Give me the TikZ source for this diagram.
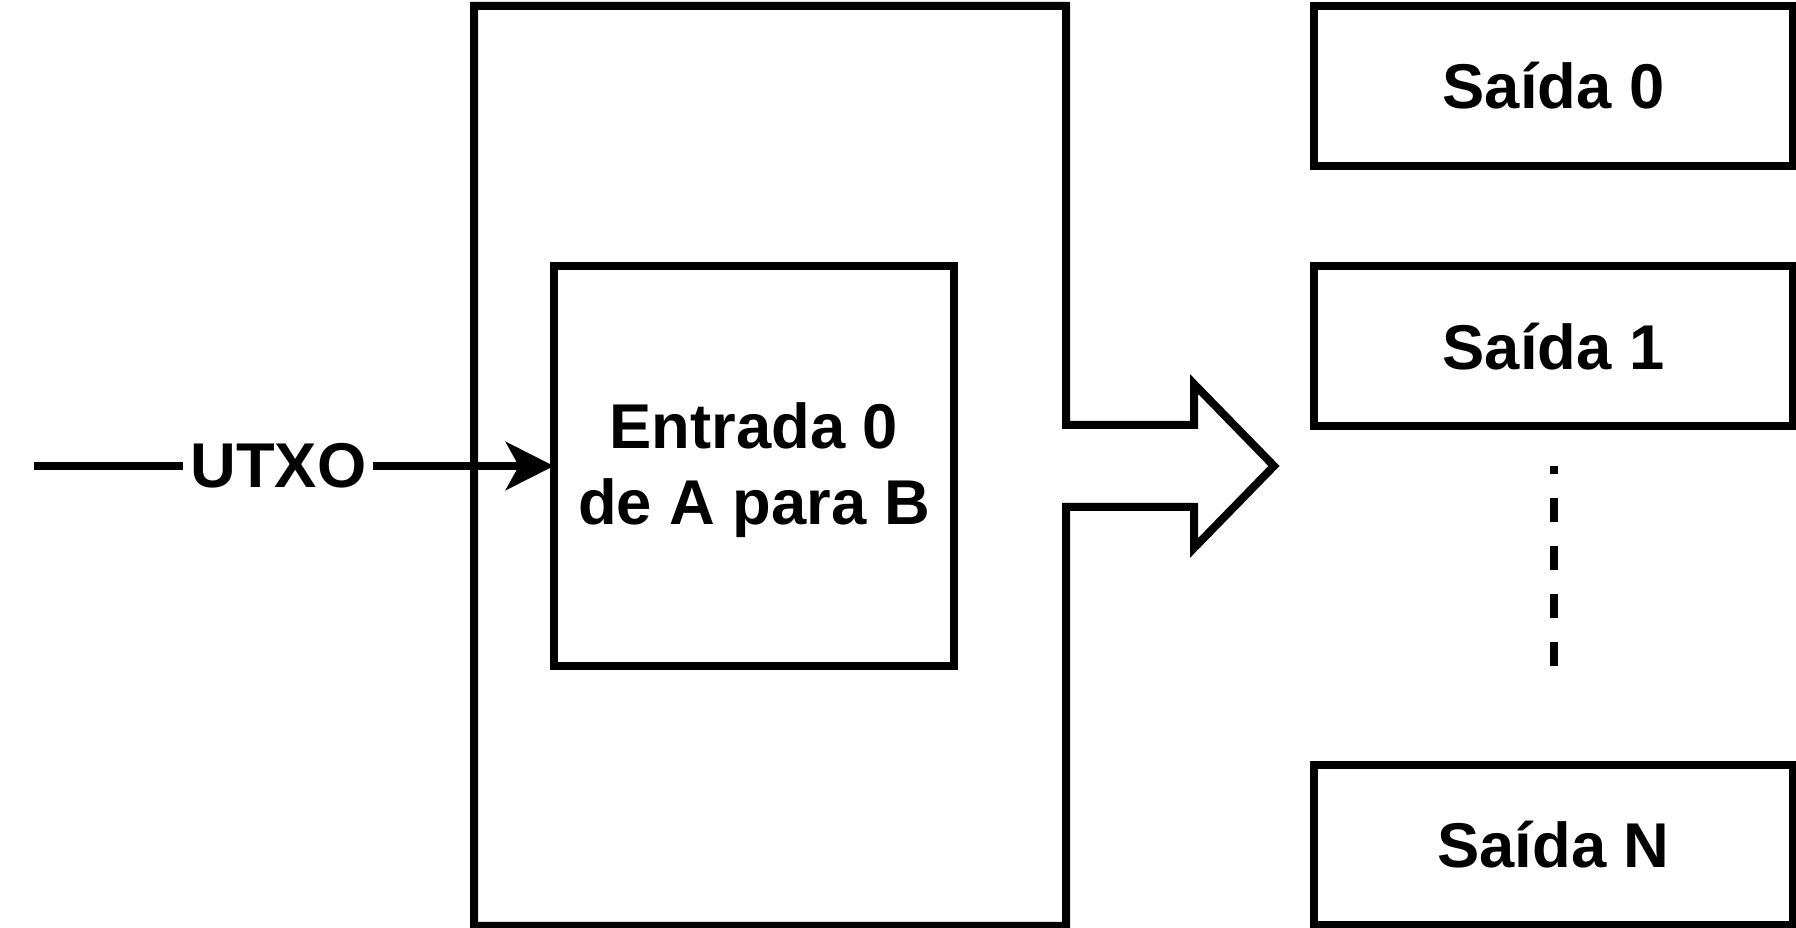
\documentclass[tikz,border=0pt]{standalone}
\usepackage{fontspec}
\setmainfont{Liberation Sans}
\usetikzlibrary{arrows.meta, positioning}
\tikzset{txtfont/.style = {font=\bfseries\fontsize{18pt}{21.6pt}\selectfont},
	thick line/.style = {line width=0.08cm},
	box/.style = {draw, thick line, txtfont, outer sep=0pt, inner sep=0pt, align=center},
	outbox/.style = {box, minimum width=4.79cm, minimum height=1.6cm}}

\begin{document}
\begin{tikzpicture}[x=0.01cm, y=-0.01cm, line join=miter]
\useasboundingbox (0,0) rectangle (1796,928);
% transaction with its big arrow
\draw[thick line] (474,6) -- (1066,6) -- (1066,425) -- (1194,425) -- (1194,384)
	-- (1274,466) -- (1194,548) -- (1194,507) -- (1066,507) -- (1066,926) -- (474,926) -- cycle;
\node[box, minimum width=4cm, minimum height=4cm, text depth=0.05cm] (entrada) at (754,466) {Entrada 0\\de A para B};
\coordinate (utxo) at (34,466);
\draw[thick line, -{Stealth[length=0.48cm, width=0.48cm, inset=0.13cm]}] (utxo)
	-- node[pos=0.47, fill=white, inner sep=2pt, txtfont] (utxolbl) {UTXO} (entrada.west);
% outputs
\node[outbox] (saida0) at (1553.5,86) {Saída 0};
\node[outbox, below=1cm of saida0] (saida1) {Saída 1};
\node[outbox] (saidaN) at (1553.5,845) {Saída N};
\coordinate[below=0.4cm of saida1] (dotstop);
\coordinate[above=0.99cm of saidaN] (dotsbot);
\draw[thick line, dash pattern=on 0.24cm off 0.24cm] (dotsbot) -- (dotstop);
\end{tikzpicture}
\end{document}
